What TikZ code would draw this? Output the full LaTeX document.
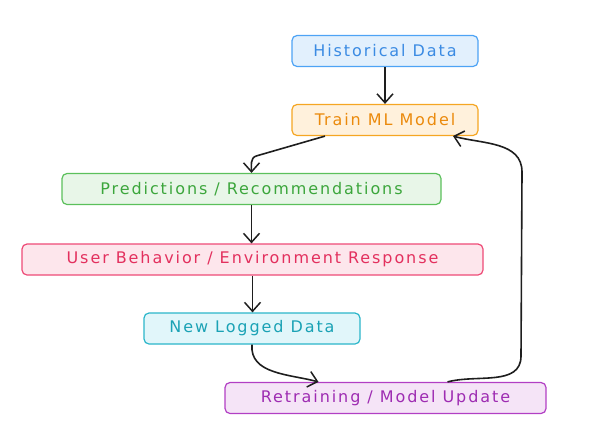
\documentclass[tikz,border=0pt]{standalone}
\usepackage{fontspec}
\setmainfont{DejaVu Sans}[LetterSpace=12]
\usetikzlibrary{arrows.meta}
\usetikzlibrary{calc}

\definecolor{HDLine}{HTML}{4DA3F5}
\definecolor{HDFill}{HTML}{E2F0FD}
\definecolor{HDText}{HTML}{3B8BE3}
\definecolor{TMLine}{HTML}{F5A623}
\definecolor{TMFill}{HTML}{FFF1DC}
\definecolor{TMText}{HTML}{EB8A0C}
\definecolor{PRLine}{HTML}{5BC05B}
\definecolor{PRFill}{HTML}{E8F6E8}
\definecolor{PRText}{HTML}{3CA63C}
\definecolor{UBLine}{HTML}{EE4A76}
\definecolor{UBFill}{HTML}{FDE6EC}
\definecolor{UBText}{HTML}{E3305E}
\definecolor{NLLine}{HTML}{2BB6CA}
\definecolor{NLFill}{HTML}{E1F6FA}
\definecolor{NLText}{HTML}{1AA2B5}
\definecolor{RTLine}{HTML}{B23FC4}
\definecolor{RTFill}{HTML}{F5E4F7}
\definecolor{RTText}{HTML}{9E2CB2}
\definecolor{ArrowInk}{HTML}{1E1E1E}

\tikzset{
	stepbox/.style={rectangle, rounded corners=5pt, line width=1.2pt, minimum height=31pt, inner sep=0pt, font=\fontsize{16}{19}\selectfont},
	flow/.style={draw=ArrowInk, line width=1.6pt, -{Straight Barb[length=9pt,width=16pt,line width=1.5pt]}}
}

\newcommand{\drawStepBox}[5]{
	\node[stepbox, draw=#4Line, fill=#4Fill, text=#4Text, minimum width=#3] (#1) at (#2) {#5};
}
\newcommand{\drawArrowDown}[2]{
	\draw[flow] (#1.south) -- (#1.south |- #2.north);
}

\begin{document}
\begin{tikzpicture}[x=1pt,y=-1pt]
	\useasboundingbox (0,0) rectangle (604,440);

	\coordinate (HD_C) at (385,51);
	\coordinate (TM_C) at (385,120);
	\coordinate (PR_C) at (251.5,189);
	\coordinate (UB_C) at (252.5,259.5);
	\coordinate (NL_C) at (252,328.5);
	\coordinate (RT_C) at (385.5,398);

	\coordinate (LOOP_B) at (521,356);
	\coordinate (LOOP_T) at (522,172);

	\drawStepBox{hist}{HD_C}{186pt}{HD}{Historical Data}
	\drawStepBox{train}{TM_C}{186pt}{TM}{Train ML Model}
	\drawStepBox{pred}{PR_C}{379pt}{PR}{Predictions / Recommendations}
	\drawStepBox{resp}{UB_C}{461pt}{UB}{User Behavior / Environment Response}
	\drawStepBox{logged}{NL_C}{216pt}{NL}{New Logged Data}
	\drawStepBox{retrain}{RT_C}{321pt}{RT}{Retraining / Model Update}

	\drawArrowDown{hist}{train}
	\drawArrowDown{pred}{resp}
	\drawArrowDown{resp}{logged}

	\draw[flow] ([xshift=-60pt]train.south) -- ($(pred.north)+(5,-17)$) to[out=195,in=90] (pred.north);
	\draw[flow] (logged.south) to[out=-95,in=165] ([xshift=-67pt]retrain.north);
	\draw[flow] ([xshift=62pt]retrain.north) to[out=15,in=-90] (LOOP_B) -- (LOOP_T) to[out=90,in=-15] ([xshift=68pt]train.south);

  \end{tikzpicture}
\end{document}
